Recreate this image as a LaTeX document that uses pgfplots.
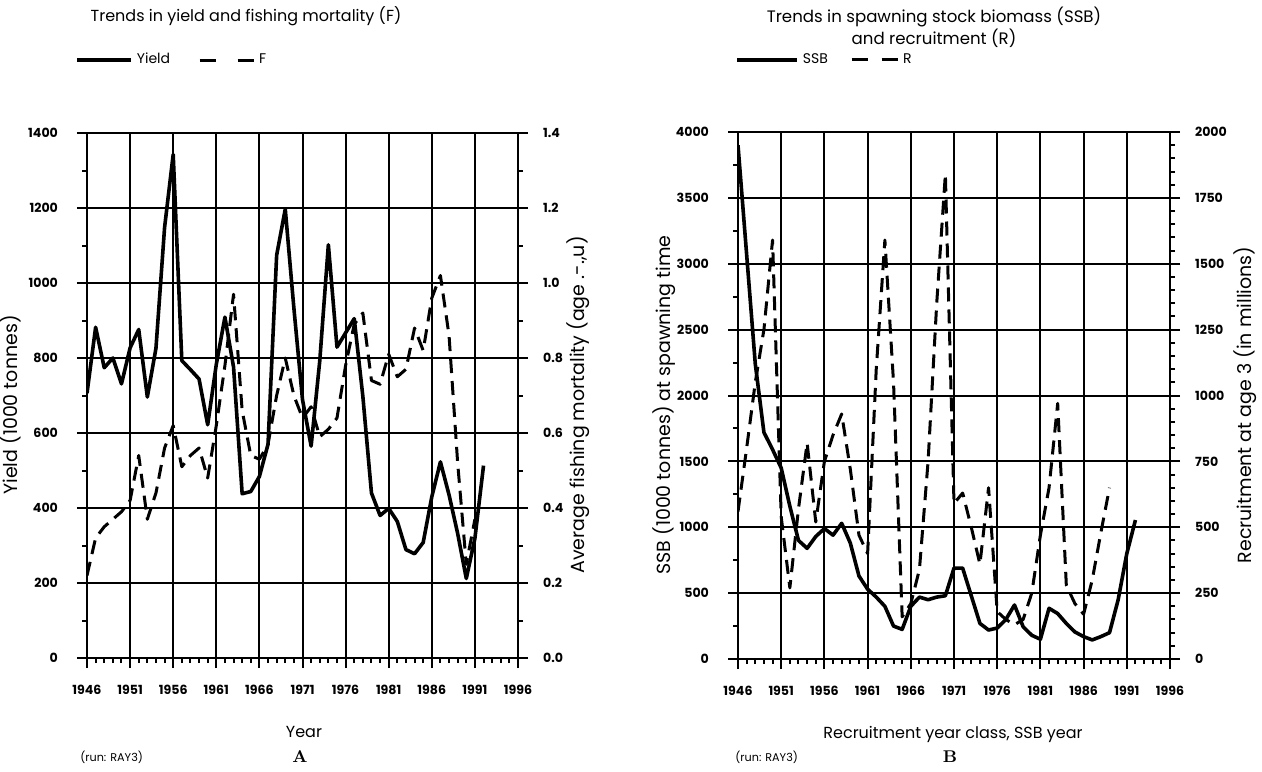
\documentclass[border=0pt]{standalone}
\usepackage{pgfplots}
\usepackage{pgfplotstable}
\pgfplotsset{compat=1.18}
\usepackage{fontspec}
\newfontfamily\gothic{Poppins}

\pgfplotstableread{
year yield
1946 706
1947 882
1948 774
1949 800
1950 731
1951 827
1952 876
1953 696
1954 826
1955 1148
1956 1343
1957 793
1958 769
1959 744
1960 622
1961 783
1962 909
1963 776
1964 438
1965 444
1966 484
1967 570
1968 1074
1969 1197
1970 933
1971 689
1972 565
1973 792
1974 1102
1975 829
1976 867
1977 905
1978 698
1979 440
1980 380
1981 399
1982 364
1983 289
1984 278
1985 308
1986 430
1987 523
1988 435
1989 332
1990 212
1991 319
1992 513
}\yielddata

\pgfplotstableread{
year F
1946 0.22
1947 0.32
1948 0.35
1949 0.37
1950 0.39
1951 0.42
1952 0.54
1953 0.37
1954 0.44
1955 0.56
1956 0.62
1957 0.51
1958 0.54
1959 0.56
1960 0.48
1961 0.62
1962 0.78
1963 0.97
1964 0.66
1965 0.54
1966 0.53
1967 0.57
1968 0.70
1969 0.80
1970 0.70
1971 0.64
1972 0.67
1973 0.59
1974 0.61
1975 0.64
1976 0.78
1977 0.89
1978 0.92
1979 0.74
1980 0.73
1981 0.81
1982 0.75
1983 0.77
1984 0.88
1985 0.82
1986 0.96
1987 1.02
1988 0.86
1989 0.52
1990 0.25
1991 0.37
}\Fdata

\pgfplotstableread{
year ssb
1946 3900
1947 3070
1948 2240
1949 1720
1950 1590
1951 1450
1952 1160
1953 900
1954 840
1955 930
1956 990
1957 940
1958 1030
1959 880
1960 630
1961 530
1962 470
1963 400
1964 250
1965 225
1966 400
1967 470
1968 450
1969 470
1970 480
1971 690
1972 690
1973 480
1974 270
1975 220
1976 235
1977 300
1978 410
1979 245
1980 180
1981 150
1982 385
1983 345
1984 270
1985 205
1986 170
1987 145
1988 170
1989 200
1990 450
1991 800
1992 1055
}\ssbdata

\pgfplotstableread{
year R
1946 560
1947 800
1948 1050
1949 1250
1950 1590
1951 540
1952 270
1953 570
1954 820
1955 520
1956 750
1957 850
1958 930
1959 720
1960 470
1961 400
1962 1100
1963 1590
1964 1050
1965 160
1966 210
1967 340
1968 750
1969 1350
1970 1840
1971 590
1972 630
1973 500
1974 360
1975 650
1976 180
1977 150
1978 130
1979 150
1980 250
1981 470
1982 650
1983 970
1984 280
1985 210
1986 170
1987 300
1988 480
1989 650
}\Rdata

\pgfplotsset{
  panel/.style={
    scale only axis, anchor=south west,
    xmin=1946, xmax=1996,
    axis line style={line width=1pt},
    tick style={black, line width=1pt},
    tick align=outside,
    major tick length=5pt, minor tick length=2.5pt,
    tick label style={font=\gothic\bfseries\fontsize{6.3}{7}\selectfont},
    /pgf/number format/assume math mode=true,
    /pgf/number format/1000 sep={},
  },
  leftaxis/.style={
    panel,
    xtick={1946,1951,...,1996}, minor x tick num=4,
    xtick pos=left, ytick pos=left,
    grid=major, major grid style={black, line width=1pt},
    xticklabel style={yshift=-5pt},
    yticklabel style={xshift=-6pt},
  },
  rightaxis/.style={
    panel,
    axis x line=none, axis y line*=right,
    yticklabel style={xshift=4pt},
  },
  solidline/.style={black, line width=1.8pt, line join=round},
  dashline/.style={black, line width=1.5pt, line join=round, dash pattern=on 7pt off 4pt},
  legsolid/.style={solidline, legend image code/.code={\draw[##1] (0pt,0pt) -- (27pt,0pt);}},
  legdash/.style={legend image code/.code={\draw[##1, dash pattern=on 8pt off 11pt] (0pt,0pt) -- (27pt,0pt);}},
  legsolidB/.style={solidline, legend image code/.code={\draw[##1] (0pt,0pt) -- (30pt,0pt);}},
  legdashB/.style={legend image code/.code={\draw[##1, dash pattern=on 8pt off 7pt] (0pt,0pt) -- (23pt,0pt);}},
  legstyle/.style={legend style={draw=none, fill=none, anchor=west, legend columns=-1,
      font=\gothic\fontsize{7}{8}\selectfont, inner sep=0pt,
      /tikz/every even column/.append style={column sep=12pt}}, legend cell align=left},
}

\begin{document}
\begin{tikzpicture}
\path[use as bounding box] (0pt,0pt) rectangle (631pt,-385.5pt);

% ---------- Panel A ----------
\begin{axis}[leftaxis, at={(43.5pt,-329pt)}, width=215.5pt, height=262.5pt,
  ymin=0, ymax=1400, ytick={0,200,...,1400}, minor y tick num=1]
\addplot[solidline] table[x=year, y=yield] {\yielddata};
\end{axis}
\begin{axis}[rightaxis, at={(43.5pt,-329pt)}, width=215.5pt, height=262.5pt,
  ymin=0, ymax=1.4, ytick={0,0.2,0.4,0.6,0.8,1.0,1.2,1.4}, minor y tick num=1,
  yticklabel style={/pgf/number format/.cd, fixed, fixed zerofill, precision=1},
  legstyle, legend style={at={(-0.028,1.139)}}]
\addlegendimage{legsolid}
\addlegendentry{Yield}
\addplot[dashline, legdash] table[x=year, y=F] {\Fdata};
\addlegendentry{F}
\end{axis}

% ---------- Panel B ----------
\begin{axis}[leftaxis, at={(369pt,-329.5pt)}, width=216pt, height=263.5pt,
  ymin=0, ymax=4000, ytick={0,500,...,4000}, minor y tick num=1]
\addplot[solidline] table[x=year, y=ssb] {\ssbdata};
\end{axis}
\begin{axis}[rightaxis, at={(369pt,-329.5pt)}, width=216pt, height=263.5pt,
  ymin=0, ymax=2000, ytick={0,250,...,2000}, minor y tick num=4,
  legstyle, legend style={at={(-0.007,1.137)}, /tikz/every even column/.append style={column sep=9pt}}]
\addlegendimage{legsolidB}
\addlegendentry{SSB}
\addplot[dashline, legdashB] table[x=year, y=R] {\Rdata};
\addlegendentry{R}
\end{axis}

% ---------- Texts ----------
\node[font=\gothic\fontsize{8}{11}\selectfont] at (123pt,-8pt) {Trends in yield and fishing mortality (F)};
\node[font=\gothic\fontsize{8.3}{11}\selectfont, align=center] at (467pt,-13.5pt) {Trends in spawning stock biomass (SSB)\\and recruitment (R)};

\node[rotate=90, font=\gothic\fontsize{9.5}{11}\selectfont] at (5pt,-202.5pt) {Yield (1000 tonnes)};
\node[rotate=90, font=\gothic\fontsize{9.5}{11}\selectfont] at (289pt,-202.5pt) {Average fishing mortality (age .-.,u)};
\node[rotate=90, font=\gothic\fontsize{9.5}{11}\selectfont] at (332pt,-202.5pt) {SSB (1000 tonnes) at spawning time};
\node[rotate=90, font=\gothic\fontsize{9.5}{11}\selectfont] at (622.5pt,-202.5pt) {Recruitment at age 3 (in millions)};

\node[font=\gothic\fontsize{8}{10}\selectfont] at (152pt,-366pt) {Year};
\node[font=\gothic\fontsize{8}{10}\selectfont] at (476.5pt,-367pt) {Recruitment year class, SSB year};

\node[font=\bfseries\fontsize{8.5}{10}\selectfont] at (150pt,-378.5pt) {A};
\node[font=\bfseries\fontsize{8.5}{10}\selectfont] at (475pt,-378.5pt) {B};

\node[anchor=west, inner sep=0pt, font=\gothic\fontsize{5.6}{7}\selectfont] at (40pt,-378.5pt) {(run: RAY3)};
\node[anchor=west, inner sep=0pt, font=\gothic\fontsize{5.6}{7}\selectfont] at (367.5pt,-378.5pt) {(run: RAY3)};
\end{tikzpicture}
\end{document}
